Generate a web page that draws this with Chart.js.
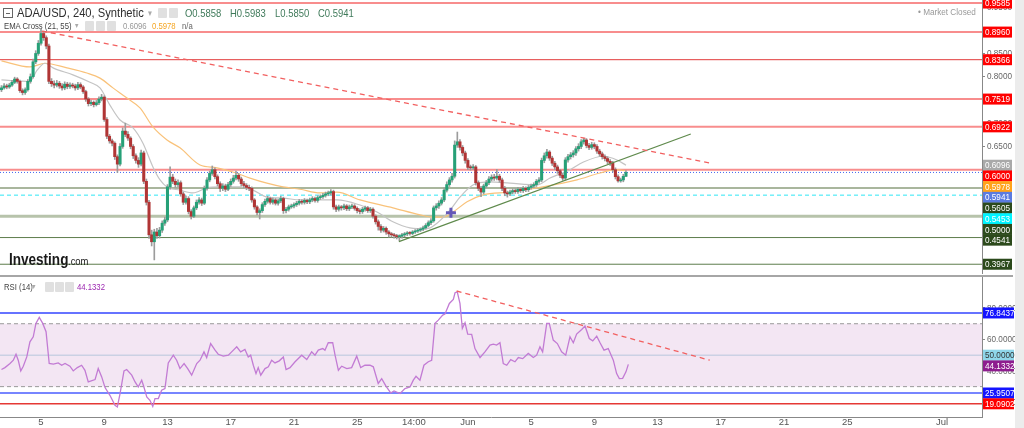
<!DOCTYPE html>
<html>
<head>
<meta charset="utf-8">
<script src="https://cdn.jsdelivr.net/npm/chart.js"></script>
<style>
body { margin: 0; background: #fff; width: 1024px; height: 428px; overflow: hidden; position: relative; font-family: "Liberation Sans", Arial, sans-serif; }
canvas { position: absolute; left: 0; }
#price { top: 0; width: 1016px; height: 274px; }
#rsi { top: 277px; width: 1016px; height: 151px; }
.t { position: absolute; white-space: nowrap; line-height: 1; transform: scaleX(0.86); transform-origin: 0 50%; }
.ic { position: absolute; width: 9px; height: 10px; background: #e0e0e0; border-radius: 1px; }
.sep { position: absolute; left: 0; top: 275px; width: 1013px; height: 2px; background: #a6a6a6; }
.strip { position: absolute; left: 1015px; top: 0; width: 9px; height: 428px; background: #ececec; }
.box { position: absolute; width: 8px; height: 8px; border: 1px solid #666; }
.box:after { content: ""; position: absolute; left: 2px; top: 3.5px; width: 4px; height: 1px; background: #666; }
</style>
</head>
<body>
<canvas id="price" width="1016" height="274"></canvas>
<canvas id="rsi" width="1016" height="151"></canvas>
<div class="sep"></div>
<div class="strip"></div>

<div class="box" style="left:3px;top:8px"></div>
<div class="t" style="left:17px;top:6px;font-size:13px;color:#2e2e2e">ADA/USD, 240, Synthetic</div>
<div class="t" style="left:148px;top:9px;font-size:9px;color:#aaa">▾</div>
<div class="ic" style="left:158px;top:8px"></div><div class="ic" style="left:169px;top:8px"></div>
<div class="t" id="hO" style="left:185px;top:8px;font-size:11px;color:#3f7a5a"></div>
<div class="t" id="hH" style="left:230px;top:8px;font-size:11px;color:#3f7a5a"></div>
<div class="t" id="hL" style="left:275px;top:8px;font-size:11px;color:#3f7a5a"></div>
<div class="t" id="hC" style="left:318px;top:8px;font-size:11px;color:#3f7a5a"></div>

<div class="t" style="left:4px;top:22px;font-size:9px;color:#444">EMA Cross (21, 55)</div>
<div class="t" style="left:75px;top:22px;font-size:8px;color:#aaa">▾</div>
<div class="ic" style="left:85px;top:21px"></div><div class="ic" style="left:96px;top:21px"></div><div class="ic" style="left:107px;top:21px"></div>
<div class="t" id="hE21" style="left:123px;top:22px;font-size:9px;color:#999"></div>
<div class="t" id="hE55" style="left:152px;top:22px;font-size:9px;color:#f5a623"></div>
<div class="t" style="left:182px;top:22px;font-size:9px;color:#666">n/a</div>

<div class="t" style="left:918px;top:7px;font-size:9.5px;color:#999">• Market Closed</div>

<div class="t" style="left:9px;top:251px;font-size:16.5px;font-weight:bold;color:#1a1a1a;transform:scaleX(0.82)">Investing</div>
<div class="t" style="left:68px;top:256px;font-size:11px;color:#1a1a1a">.com</div>

<div class="t" style="left:4px;top:283px;font-size:9px;color:#444">RSI (14)</div>
<div class="t" style="left:32px;top:283px;font-size:8px;color:#aaa">▾</div>
<div class="ic" style="left:45px;top:282px"></div><div class="ic" style="left:55px;top:282px"></div><div class="ic" style="left:65px;top:282px"></div>
<div class="t" id="hRsi" style="left:77px;top:283px;font-size:9px;color:#9c27b0"></div>

<script>
// ---- data (x in days: 1 = 1 May, 32 = 1 Jun) ----
const firstBarDay = 2.5;      // 2 May 12:00, bars every 4 hours
const firstOpen = 0.772;

const closes = [
    0.776, 0.780, 0.778,
    0.782, 0.788, 0.795, 0.790, 0.770, 0.766,
    0.772, 0.790, 0.800, 0.832, 0.850, 0.872,
    0.893, 0.884, 0.866, 0.790, 0.785, 0.782,
    0.786, 0.780, 0.776, 0.784, 0.779, 0.782,
    0.780, 0.776, 0.783, 0.778, 0.768, 0.752,
    0.742, 0.745, 0.740, 0.744, 0.752, 0.756,
    0.708, 0.672, 0.662, 0.657, 0.628, 0.612,
    0.650, 0.683, 0.676, 0.668, 0.650, 0.630,
    0.620, 0.612, 0.636, 0.575, 0.530, 0.460,
    0.445, 0.466, 0.458, 0.470, 0.485, 0.492,
    0.563, 0.584, 0.575, 0.568, 0.572, 0.548,
    0.530, 0.538, 0.510, 0.500, 0.518, 0.530,
    0.535, 0.528, 0.560, 0.578, 0.592, 0.600,
    0.585, 0.570, 0.560, 0.565, 0.558, 0.568,
    0.575, 0.582, 0.588, 0.580, 0.570, 0.566,
    0.562, 0.560, 0.535, 0.520, 0.508, 0.512,
    0.525, 0.532, 0.538, 0.530, 0.535, 0.528,
    0.533, 0.538, 0.512, 0.515, 0.520, 0.522,
    0.525, 0.528, 0.532, 0.530, 0.534, 0.531,
    0.535, 0.538, 0.534, 0.540, 0.542, 0.545,
    0.548, 0.550, 0.553, 0.520, 0.515, 0.520,
    0.518, 0.522, 0.516, 0.520, 0.522, 0.517,
    0.512, 0.510, 0.515, 0.518, 0.512, 0.515,
    0.500, 0.488, 0.478, 0.470, 0.474, 0.466,
    0.462, 0.460, 0.458, 0.456, 0.457, 0.460,
    0.462, 0.464, 0.463, 0.466, 0.468, 0.470,
    0.472, 0.475, 0.480, 0.486, 0.490, 0.518,
    0.522, 0.528, 0.535, 0.556, 0.568, 0.578,
    0.586, 0.653, 0.660, 0.648, 0.636, 0.620,
    0.605, 0.604, 0.606, 0.572, 0.560, 0.552,
    0.565, 0.572, 0.580, 0.584, 0.582, 0.586,
    0.578, 0.560, 0.550, 0.548, 0.552, 0.555,
    0.553, 0.558, 0.555, 0.560, 0.557, 0.562,
    0.565, 0.568, 0.575, 0.578, 0.620, 0.630,
    0.638, 0.625, 0.614, 0.606, 0.598, 0.588,
    0.582, 0.621, 0.628, 0.632, 0.636, 0.645,
    0.650, 0.660, 0.664, 0.652, 0.648, 0.654,
    0.650, 0.640, 0.634, 0.628, 0.624, 0.618,
    0.614, 0.600, 0.585, 0.576, 0.578, 0.5858,
    0.5941
];

const highs = [
    0.781, 0.785, 0.784,
    0.786, 0.792, 0.799, 0.798, 0.793, 0.774,
    0.776, 0.794, 0.806, 0.838, 0.856, 0.878,
    0.902, 0.898, 0.888, 0.870, 0.796, 0.791,
    0.792, 0.790, 0.785, 0.789, 0.788, 0.787,
    0.786, 0.784, 0.788, 0.787, 0.781, 0.771,
    0.755, 0.750, 0.748, 0.749, 0.757, 0.762,
    0.759, 0.712, 0.676, 0.666, 0.660, 0.632,
    0.656, 0.690, 0.700, 0.682, 0.671, 0.654,
    0.634, 0.626, 0.642, 0.640, 0.580, 0.534,
    0.470, 0.472, 0.474, 0.476, 0.490, 0.498,
    0.568, 0.606, 0.590, 0.580, 0.578, 0.576,
    0.552, 0.544, 0.542, 0.514, 0.522, 0.535,
    0.540, 0.539, 0.565, 0.583, 0.597, 0.608,
    0.604, 0.589, 0.574, 0.570, 0.569, 0.573,
    0.580, 0.588, 0.597, 0.592, 0.584, 0.575,
    0.570, 0.567, 0.563, 0.538, 0.523, 0.516,
    0.529, 0.537, 0.543, 0.541, 0.539, 0.538,
    0.537, 0.543, 0.541, 0.519, 0.524, 0.526,
    0.529, 0.532, 0.536, 0.535, 0.538, 0.537,
    0.539, 0.542, 0.541, 0.544, 0.546, 0.549,
    0.552, 0.554, 0.557, 0.556, 0.524, 0.524,
    0.523, 0.526, 0.525, 0.524, 0.526, 0.525,
    0.520, 0.516, 0.519, 0.522, 0.521, 0.519,
    0.518, 0.503, 0.492, 0.482, 0.478, 0.477,
    0.469, 0.465, 0.463, 0.461, 0.460, 0.463,
    0.465, 0.467, 0.467, 0.469, 0.471, 0.473,
    0.475, 0.479, 0.484, 0.490, 0.495, 0.522,
    0.527, 0.533, 0.540, 0.561, 0.574, 0.583,
    0.592, 0.662, 0.681, 0.665, 0.652, 0.640,
    0.624, 0.610, 0.611, 0.609, 0.576, 0.564,
    0.569, 0.577, 0.585, 0.589, 0.590, 0.601,
    0.590, 0.582, 0.564, 0.554, 0.556, 0.559,
    0.559, 0.562, 0.561, 0.564, 0.563, 0.566,
    0.569, 0.572, 0.579, 0.583, 0.625, 0.636,
    0.644, 0.641, 0.629, 0.618, 0.610, 0.601,
    0.592, 0.626, 0.633, 0.637, 0.641, 0.650,
    0.656, 0.665, 0.668, 0.667, 0.657, 0.659,
    0.658, 0.654, 0.644, 0.638, 0.632, 0.628,
    0.622, 0.618, 0.604, 0.589, 0.582, 0.590,
    0.5983
];

const lows = [
    0.768, 0.773, 0.774,
    0.775, 0.779, 0.785, 0.786, 0.766, 0.761,
    0.762, 0.769, 0.786, 0.797, 0.828, 0.846,
    0.868, 0.878, 0.860, 0.785, 0.779, 0.776,
    0.778, 0.775, 0.771, 0.772, 0.774, 0.775,
    0.776, 0.771, 0.772, 0.774, 0.764, 0.747,
    0.737, 0.738, 0.735, 0.737, 0.740, 0.748,
    0.704, 0.667, 0.657, 0.651, 0.622, 0.594,
    0.608, 0.646, 0.671, 0.663, 0.645, 0.624,
    0.614, 0.605, 0.608, 0.570, 0.524, 0.452,
    0.436, 0.406, 0.452, 0.453, 0.465, 0.480,
    0.488, 0.558, 0.570, 0.562, 0.563, 0.543,
    0.525, 0.526, 0.505, 0.494, 0.497, 0.514,
    0.526, 0.523, 0.525, 0.556, 0.574, 0.588,
    0.580, 0.565, 0.553, 0.555, 0.553, 0.555,
    0.564, 0.571, 0.578, 0.575, 0.565, 0.561,
    0.557, 0.555, 0.530, 0.515, 0.503, 0.494,
    0.508, 0.521, 0.528, 0.526, 0.526, 0.524,
    0.524, 0.529, 0.506, 0.507, 0.511, 0.517,
    0.518, 0.521, 0.524, 0.526, 0.526, 0.527,
    0.527, 0.531, 0.530, 0.530, 0.536, 0.538,
    0.541, 0.544, 0.546, 0.515, 0.510, 0.511,
    0.513, 0.514, 0.512, 0.512, 0.516, 0.513,
    0.507, 0.505, 0.506, 0.511, 0.508, 0.508,
    0.496, 0.483, 0.470, 0.465, 0.466, 0.461,
    0.455, 0.455, 0.453, 0.451, 0.447, 0.453,
    0.456, 0.458, 0.459, 0.460, 0.463, 0.465,
    0.467, 0.469, 0.472, 0.477, 0.482, 0.487,
    0.513, 0.517, 0.524, 0.531, 0.552, 0.564,
    0.573, 0.582, 0.648, 0.642, 0.630, 0.614,
    0.600, 0.599, 0.600, 0.567, 0.555, 0.542,
    0.548, 0.561, 0.568, 0.576, 0.577, 0.578,
    0.573, 0.555, 0.544, 0.541, 0.544, 0.548,
    0.549, 0.549, 0.551, 0.551, 0.553, 0.553,
    0.558, 0.561, 0.564, 0.571, 0.574, 0.615,
    0.625, 0.620, 0.609, 0.600, 0.592, 0.583,
    0.577, 0.578, 0.616, 0.623, 0.627, 0.631,
    0.640, 0.645, 0.655, 0.647, 0.643, 0.644,
    0.645, 0.635, 0.629, 0.623, 0.619, 0.613,
    0.609, 0.595, 0.580, 0.573, 0.573, 0.574,
    0.5850
];

// each bar opens where the previous one closed
const opens = [firstOpen].concat(closes.slice(0, -1));
const barDays = closes.map((_, i) => firstBarDay + i / 6);

const ema21Days = [2.5, 4.3, 4.75, 5.25, 5.76, 7.02, 8.1, 8.73, 9.36, 10.0, 10.82, 11.45, 12.08, 12.53, 12.97, 13.79, 14.61, 15.5, 16.32, 17.59, 18.41, 19.29, 20.31, 21.38, 22.65, 23.72, 25.18, 26.25, 27.26, 28.34, 29.41, 30.05, 30.87, 31.5, 32.32, 33.4, 34.66, 36.37, 37.2, 38.46, 39.28, 40.55, 41.43, 42.0];
const ema21 = [0.793, 0.790, 0.814, 0.829, 0.819, 0.804, 0.788, 0.776, 0.739, 0.707, 0.690, 0.657, 0.606, 0.578, 0.563, 0.556, 0.550, 0.561, 0.563, 0.563, 0.556, 0.541, 0.539, 0.535, 0.535, 0.535, 0.524, 0.509, 0.488, 0.475, 0.473, 0.485, 0.513, 0.541, 0.567, 0.574, 0.571, 0.567, 0.582, 0.600, 0.616, 0.629, 0.621, 0.6096];

const ema55Days = [2.5, 4.3, 5.25, 6.64, 7.9, 8.73, 9.55, 10.44, 11.26, 12.08, 12.97, 13.79, 15.06, 16.13, 17.14, 18.22, 19.29, 20.31, 21.38, 22.65, 23.72, 25.18, 27.26, 28.97, 29.8, 30.43, 31.06, 31.95, 32.96, 34.66, 36.75, 38.9, 40.36, 41.43, 42.0];
const ema55 = [0.834, 0.821, 0.829, 0.819, 0.808, 0.797, 0.776, 0.754, 0.733, 0.692, 0.664, 0.647, 0.610, 0.604, 0.595, 0.582, 0.571, 0.563, 0.558, 0.550, 0.552, 0.535, 0.518, 0.503, 0.498, 0.498, 0.509, 0.531, 0.546, 0.552, 0.563, 0.578, 0.593, 0.600, 0.5978];

const levelValues = [0.9585, 0.8960, 0.8366, 0.7519, 0.6922, 0.6000, 0.5941, 0.5605, 0.5453, 0.5000, 0.4541, 0.3967];
const priceTicks = [0.40, 0.45, 0.50, 0.55, 0.60, 0.65, 0.70, 0.75, 0.80, 0.85, 0.90, 0.95];

const resistanceDays = [5.06, 47.3];
const resistanceVals = [0.8983, 0.6144];
const supportDays = [27.64, 46.1];
const supportVals = [0.4452, 0.6768];
const markerDay = [30.93];
const markerVal = [0.5075];

const rsiDays = [2.5, 2.72, 3.04, 3.25, 3.42, 3.56, 3.72, 3.88, 4.10, 4.30, 4.51, 4.68, 4.89, 5.11, 5.32, 5.52, 5.78, 6.09, 6.31, 6.52,
    6.83, 7.04, 7.30, 7.57, 7.78, 7.99, 8.42, 8.62, 8.84, 9.05, 9.36, 9.68, 9.83, 10.0, 10.25, 10.42, 10.74, 10.95, 11.15, 11.37,
    11.51, 11.69, 11.89, 12.07, 12.21, 12.42, 12.63, 12.84, 13.05, 13.37, 13.58, 13.79, 14.05, 14.28, 14.53, 14.85, 15.06, 15.31, 15.48, 15.73,
    16.01, 16.21, 16.53, 16.85, 17.06, 17.38, 17.63, 17.90, 18.11, 18.26, 18.43, 18.60, 18.74, 18.90, 19.17, 19.38, 19.59, 19.80, 20.07, 20.33,
    20.50, 20.75, 21.07, 21.49, 21.81, 22.12, 22.33, 22.54, 22.82, 22.96, 23.17, 23.45, 23.60, 23.81, 24.02, 24.34, 24.65, 24.97, 25.22, 25.49,
    25.81, 26.02, 26.33, 26.55, 26.82, 27.12, 27.33, 27.71,
    28.02, 28.34, 28.55, 28.72, 28.97, 29.22, 29.50, 29.71, 29.92, 30.13, 30.41, 30.55, 30.83, 31.08, 31.19, 31.33, 31.50, 31.65, 31.82, 31.99,
    32.24, 32.45, 32.77, 33.08, 33.40, 33.61, 33.82, 34.03, 34.24, 34.46, 34.71, 34.98, 35.19, 35.47, 35.82, 36.14, 36.35, 36.56, 36.73, 36.99,
    37.15, 37.40, 37.66, 37.93, 38.19, 38.46, 38.67, 38.88, 39.20, 39.41, 39.68, 39.90, 40.15, 40.36, 40.61, 40.88, 41.20, 41.41, 41.58, 41.79,
    42.00, 42.15];
const rsiValues = [40.9, 42.1, 44.7, 46.8, 50.6, 46.8, 40.0, 43.0, 48.9, 58.5, 61.7, 70.2, 74.0, 70.2, 64.9, 44.7, 44.3, 45.1, 43.6, 44.7,
    43.0, 40.0, 42.1, 43.6, 40.4, 33.0, 34.5, 41.5, 36.2, 29.4, 24.5, 18.2, 17.1, 25.6, 40.0, 40.9, 37.3, 33.0, 29.8, 34.1,
    29.8, 23.5, 21.3, 17.5, 22.4, 22.4, 27.7, 28.8, 45.1, 50.0, 46.8, 41.5, 44.7, 41.5, 37.3, 44.7, 46.8, 52.1, 48.5, 57.4,
    53.2, 50.6, 49.4, 50.0, 52.1, 55.3, 52.1, 53.6, 48.9, 50.0, 43.6, 38.3, 42.1, 37.3, 41.5, 42.6, 46.8, 45.1, 46.4, 48.9,
    40.9, 42.1, 45.8, 50.0, 47.2, 52.1, 50.0, 53.2, 54.2, 53.2, 57.9, 57.9, 50.0, 40.4, 43.0, 41.5, 42.1, 49.4, 42.1, 43.6,
    43.6, 42.6, 32.0, 35.1, 30.3, 26.0, 27.3, 25.6,
    28.8, 29.8, 34.1, 36.6, 34.1, 43.6, 45.8, 46.8, 70.2, 72.3, 75.5, 76.1, 82.9, 85.5, 89.7, 90.3, 82.9, 67.0, 70.6, 63.4,
    63.2, 54.2, 48.5, 52.1, 56.4, 57.0, 56.4, 57.9, 44.7, 43.6, 47.2, 45.8, 48.5, 47.8, 51.1, 48.5, 50.0, 55.3, 52.1, 70.2,
    70.2, 59.6, 57.4, 52.1, 50.0, 61.7, 57.9, 63.4, 66.3, 68.5, 60.6, 59.1, 62.1, 57.9, 53.2, 54.2, 46.8, 38.3, 35.1, 35.3,
    39.4, 44.1332];

const rsiTrendDays = [31.29, 47.3];
const rsiTrendVals = [90.8, 46.8];
const rsiGuides = [76.8437, 70, 50, 30, 25.9507, 19.0902];
const rsiBand = [30, 70];
const rsiTicks = [20, 40, 60, 80];

const xTickDays = [5, 9, 13, 17, 21, 25, 28.583, 32, 36, 40, 44, 48, 52, 56, 62];
const xTickLabels = ["5", "9", "13", "17", "21", "25", "14:00", "Jun", "5", "9", "13", "17", "21", "25", "Jul"];

// ---- view / style ----
const xMin = 2.407, xMax = 64.52;
const UP = "#26a077", DOWN = "#b03535";
const FONT = '9.5px "Liberation Sans", Arial, sans-serif';
const TAG_H = 10.7;

const RED = { line: "rgba(245,80,80,0.65)", width: 2, dash: [], tag: "#ff0000", text: "#fff" };
const levelStyles = [
    RED, RED,
    { line: "#e23b3b", width: 1, dash: [], tag: "#ff0000", text: "#fff" },
    RED, RED, RED,
    { line: "#4466ee", width: 1, dash: [1, 2], tag: "#5a7be0", text: "#fff" },
    { line: "#8d9e7c", width: 1.5, dash: [], tag: "#2c4a1c", text: "#fff" },
    { line: "#2ee6f5", width: 1, dash: [4, 3], tag: "#00f4ff", text: "#fff" },
    { line: "#b7c3ab", width: 3, dash: [], tag: "#2c4a1c", text: "#fff" },
    { line: "#5d7d4c", width: 1, dash: [], tag: "#2c4a1c", text: "#fff" },
    { line: "#5d7d4c", width: 1, dash: [], tag: "#2c4a1c", text: "#fff" }
];
const rsiGuideStyles = [
    { line: "#3344ff", width: 1.5, dash: [] },
    { line: "#9a9a9a", width: 1, dash: [4, 3] },
    { line: "#b7c6dc", width: 1, dash: [] },
    { line: "#9a9a9a", width: 1, dash: [4, 3] },
    { line: "#4a5cff", width: 1.5, dash: [] },
    { line: "#e53935", width: 1.5, dash: [] }
];

const last = closes.length - 1;
document.getElementById("hO").textContent = "O" + opens[last].toFixed(4);
document.getElementById("hH").textContent = "H" + highs[last].toFixed(4);
document.getElementById("hL").textContent = "L" + lows[last].toFixed(4);
document.getElementById("hC").textContent = "C" + closes[last].toFixed(4);
document.getElementById("hE21").textContent = ema21[ema21.length - 1].toFixed(4);
document.getElementById("hE55").textContent = ema55[ema55.length - 1].toFixed(4);
document.getElementById("hRsi").textContent = rsiValues[rsiValues.length - 1].toFixed(4);

const pts = (xs, ys) => xs.map((x, i) => ({ x, y: ys[i] }));

// narrow text, like the axis labels of the original
function drawText(ctx, txt, x, y, color) {
    ctx.save();
    ctx.translate(x, y);
    ctx.scale(0.86, 1);
    ctx.fillStyle = color;
    ctx.fillText(txt, 0, 0);
    ctx.restore();
}

function drawGuides(chart, values, styles) {
    const { ctx, chartArea: a, scales: { y } } = chart;
    ctx.save();
    values.forEach((v, i) => {
        const s = styles[i];
        const py = y.getPixelForValue(v);
        ctx.beginPath();
        ctx.strokeStyle = s.line;
        ctx.lineWidth = s.width;
        ctx.setLineDash(s.dash);
        ctx.moveTo(a.left, py);
        ctx.lineTo(a.right, py);
        ctx.stroke();
    });
    ctx.restore();
}

function drawAxisText(chart, ticks, tags, boxW) {
    const { ctx, chartArea: a, scales: { y } } = chart;
    ctx.save();
    ctx.font = FONT;
    ctx.textBaseline = "middle";
    ticks.forEach((v) => drawText(ctx, v.toFixed(4), a.right + 5, y.getPixelForValue(v), "#666"));
    // value tags are pushed down so they never overlap
    tags.sort((p, q) => q.v - p.v);
    let prev = -Infinity;
    tags.forEach((t) => {
        const yc = Math.max(y.getPixelForValue(t.v), prev + TAG_H);
        prev = yc;
        ctx.fillStyle = t.bg;
        ctx.fillRect(a.right + 1, yc - 5.5, boxW, 11);
        drawText(ctx, t.v.toFixed(4), a.right + 3, yc + 0.5, t.fg);
    });
    ctx.restore();
}

const priceOverlay = {
    id: "priceOverlay",
    beforeDatasetsDraw(chart) {
        drawGuides(chart, levelValues, levelStyles);
    },
    afterDraw(chart) {
        const tags = levelValues.map((v, i) => ({ v, bg: levelStyles[i].tag, fg: levelStyles[i].text }));
        tags.push({ v: ema21[ema21.length - 1], bg: "#a9a9a9", fg: "#fff" });
        tags.push({ v: ema55[ema55.length - 1], bg: "#ffa31a", fg: "#fff" });
        drawAxisText(chart, priceTicks, tags, 29);
    }
};

const rsiOverlay = {
    id: "rsiOverlay",
    beforeDatasetsDraw(chart) {
        const { ctx, chartArea: a, scales: { y } } = chart;
        const top = y.getPixelForValue(rsiBand[1]);
        const bot = y.getPixelForValue(rsiBand[0]);
        ctx.save();
        ctx.fillStyle = "#f3e6f3";
        ctx.fillRect(a.left, top, a.right - a.left, bot - top);
        ctx.restore();
        drawGuides(chart, rsiGuides, rsiGuideStyles);
    },
    afterDraw(chart) {
        const tags = [
            { v: rsiGuides[0], bg: "#1414ff", fg: "#fff" },
            { v: rsiGuides[2], bg: "#8fd6ea", fg: "#333" },
            { v: rsiValues[rsiValues.length - 1], bg: "#8e1c8e", fg: "#fff" },
            { v: rsiGuides[4], bg: "#1414ff", fg: "#fff" },
            { v: rsiGuides[5], bg: "#ff0000", fg: "#fff" }
        ];
        drawAxisText(chart, rsiTicks, tags, 31);
    }
};

const rightAxis = (min, max, ticks) => ({
    type: "linear",
    position: "right",
    min, max,
    afterBuildTicks: (s) => { s.ticks = ticks.map((v) => ({ value: v })); },
    afterFit: (s) => { s.width = 34; },
    ticks: { display: false },
    grid: { drawOnChartArea: false, drawTicks: true, tickLength: 3, color: "#888" },
    border: { color: "#888" }
});

const common = {
    animation: false,
    responsive: false,
    devicePixelRatio: 1,
    events: [],
    layout: { autoPadding: false, padding: 0 },
    plugins: { legend: { display: false }, tooltip: { enabled: false } }
};

new Chart(document.getElementById("price"), {
    type: "bar",
    data: {
        datasets: [
            {
                type: "line", data: pts(resistanceDays, resistanceVals), borderColor: "#f26060",
                borderWidth: 1.3, borderDash: [5, 4], pointRadius: 0, order: 0
            },
            {
                type: "line", data: pts(supportDays, supportVals), borderColor: "#5f8a4c",
                borderWidth: 1.3, pointRadius: 0, order: 0
            },
            {
                type: "line", data: pts(markerDay, markerVal), showLine: false, pointStyle: "cross",
                pointRadius: 5, borderWidth: 3, borderColor: "#6458b8", order: 0
            },
            {
                type: "bar", data: barDays.map((d, i) => ({ x: d, y: [opens[i], closes[i]] })),
                backgroundColor: (c) => (closes[c.dataIndex] >= opens[c.dataIndex] ? UP : DOWN),
                barThickness: 2.4, grouped: false, minBarLength: 1, order: 1
            },
            {
                type: "bar", data: barDays.map((d, i) => ({ x: d, y: [lows[i], highs[i]] })),
                backgroundColor: "#9c9c9c", barThickness: 1, grouped: false, minBarLength: 1, order: 2
            },
            {
                type: "line", data: pts(ema21Days, ema21), borderColor: "#c4c4c4",
                borderWidth: 1.2, pointRadius: 0, cubicInterpolationMode: "monotone", order: 3
            },
            {
                type: "line", data: pts(ema55Days, ema55), borderColor: "#f9c27a",
                borderWidth: 1.2, pointRadius: 0, cubicInterpolationMode: "monotone", order: 3
            }
        ]
    },
    options: Object.assign({}, common, {
        scales: {
            x: { type: "linear", min: xMin, max: xMax, display: false, offset: false, grid: { offset: false } },
            y: rightAxis(0.3757, 0.9650, priceTicks)
        }
    }),
    plugins: [priceOverlay]
});

new Chart(document.getElementById("rsi"), {
    type: "line",
    data: {
        datasets: [
            {
                data: pts(rsiTrendDays, rsiTrendVals), borderColor: "#f26060",
                borderWidth: 1.3, borderDash: [5, 4], pointRadius: 0, order: 0
            },
            {
                data: pts(rsiDays, rsiValues), borderColor: "#c27bd4",
                borderWidth: 1.3, pointRadius: 0, tension: 0, order: 1
            }
        ]
    },
    options: Object.assign({}, common, {
        scales: {
            x: {
                type: "linear", min: xMin, max: xMax, offset: false,
                afterBuildTicks: (s) => { s.ticks = xTickDays.map((v) => ({ value: v })); },
                afterFit: (s) => { s.height = 11; },
                ticks: {
                    autoSkip: false, maxRotation: 0, padding: 0, color: "#555",
                    font: { size: 9.5, family: '"Liberation Sans", Arial, sans-serif' },
                    callback: (v, i) => xTickLabels[i]
                },
                grid: { drawOnChartArea: false, drawTicks: false },
                border: { color: "#888" }
            },
            y: rightAxis(10.7, 99.7, rsiTicks)
        }
    }),
    plugins: [rsiOverlay]
});
</script>
</body>
</html>
